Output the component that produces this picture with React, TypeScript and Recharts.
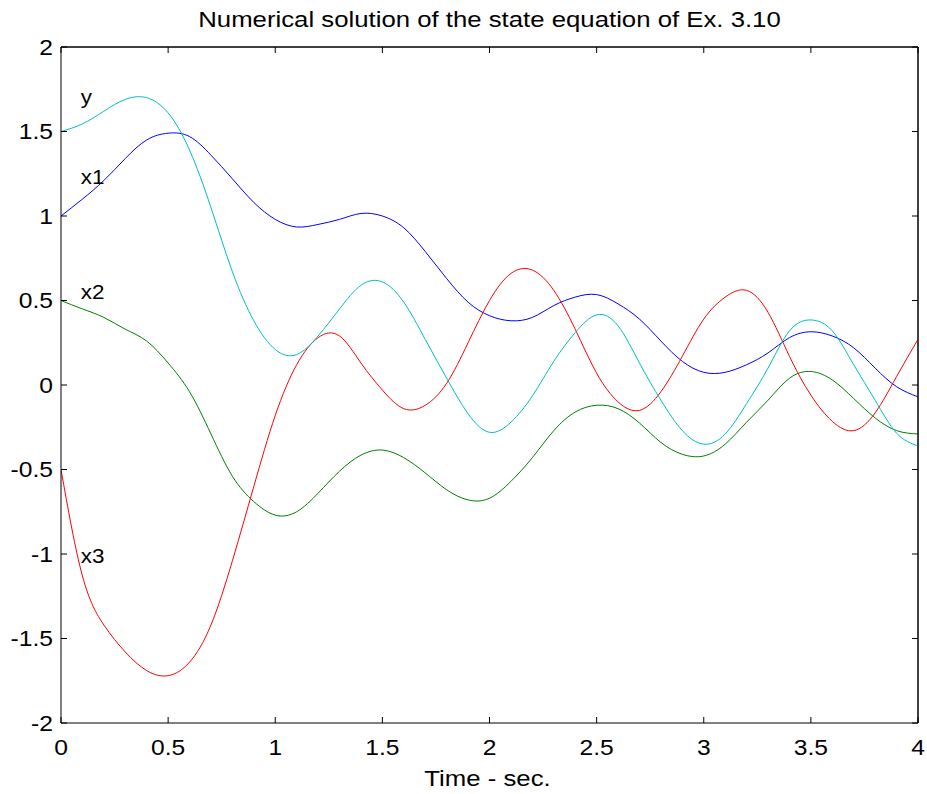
import { LineChart, Line, XAxis, YAxis, ReferenceDot, ReferenceLine } from "recharts";

const FONT = '"Liberation Sans", Arial, Helvetica, sans-serif';
const SX = 1.12; // matlab text renders a bit wide
const TICK_LEN = 6;

const TIME = [
  0, 0.1, 0.2, 0.3, 0.4, 0.5, 0.6, 0.7, 0.8, 0.9, 1.0, 1.1, 1.2, 1.3, 1.4,
  1.5, 1.6, 1.7, 1.8, 1.9, 2.0, 2.1, 2.2, 2.3, 2.4, 2.5, 2.6, 2.7, 2.8, 2.9,
  3.0, 3.1, 3.2, 3.3, 3.4, 3.5, 3.6, 3.7, 3.8, 3.9, 4.0,
];

const X1 = [
  1.0, 1.1, 1.21, 1.34, 1.45, 1.49, 1.47, 1.36, 1.22, 1.08, 0.98, 0.935, 0.95,
  0.98, 1.015, 1.0, 0.93, 0.79, 0.63, 0.49, 0.41, 0.38, 0.4, 0.47, 0.52, 0.535,
  0.48, 0.39, 0.26, 0.14, 0.075, 0.075, 0.12, 0.19, 0.28, 0.315, 0.29, 0.22,
  0.1, -0.01, -0.07,
];

const X2 = [
  0.5, 0.45, 0.4, 0.33, 0.26, 0.13, -0.04, -0.29, -0.54, -0.69, -0.77, -0.75,
  -0.64, -0.51, -0.415, -0.385, -0.43, -0.52, -0.62, -0.68, -0.67, -0.57,
  -0.43, -0.27, -0.16, -0.12, -0.14, -0.225, -0.34, -0.41, -0.42, -0.35,
  -0.22, -0.09, 0.04, 0.08, 0.03, -0.08, -0.195, -0.27, -0.29,
];

const X3 = [
  -0.5, -1.13, -1.42, -1.58, -1.69, -1.72, -1.64, -1.42, -1.04, -0.6, -0.18,
  0.12, 0.28, 0.29, 0.13, -0.03, -0.14, -0.12, 0.01, 0.25, 0.5, 0.66, 0.68,
  0.56, 0.33, 0.07, -0.1, -0.15, -0.04, 0.17, 0.39, 0.52, 0.56, 0.43, 0.17,
  -0.06, -0.215, -0.27, -0.165, 0.05, 0.27,
];

const Y_OUT = [
  1.5, 1.545, 1.62, 1.69, 1.7, 1.61, 1.39, 1.05, 0.67, 0.38, 0.21, 0.18, 0.29,
  0.45, 0.59, 0.61, 0.49, 0.27, 0.04, -0.17, -0.28, -0.22, -0.065, 0.14, 0.31,
  0.415, 0.35, 0.13, -0.09, -0.27, -0.35, -0.29, -0.11, 0.1, 0.32, 0.385,
  0.32, 0.12, -0.09, -0.285, -0.36,
];

const X_TICKS = [0, 0.5, 1, 1.5, 2, 2.5, 3, 3.5, 4];
const Y_TICKS = [-2, -1.5, -1, -0.5, 0, 0.5, 1, 1.5, 2];

// curve name tags (text start, baseline) in data units
const TAG_NAMES = ["y", "x1", "x2", "x3"];
const TAG_T = [0.092, 0.092, 0.092, 0.092];
const TAG_V = [1.66, 1.19, 0.51, -1.055];

const rows = TIME.map((t, i) => ({
  t,
  x1: X1[i],
  x2: X2[i],
  x3: X3[i],
  y: Y_OUT[i],
}));

const Y_MARGIN = 8;
const X_MARGIN = 16;

function LeftTick({ x, y, payload }: any) {
  return (
    <g>
      <line x1={x + Y_MARGIN} x2={x + Y_MARGIN + TICK_LEN} y1={y} y2={y} stroke="#000" />
      <g transform={`translate(${x},${y}) scale(${SX},1)`}>
        <text x={0} y={0} dy={7.8} textAnchor="end" fontSize={22} fontFamily={FONT} fill="#000">
          {payload.value}
        </text>
      </g>
    </g>
  );
}

function BottomTick({ x, y, payload }: any) {
  return (
    <g>
      <line x1={x} x2={x} y1={y - X_MARGIN} y2={y - X_MARGIN - TICK_LEN} stroke="#000" />
      <g transform={`translate(${x},${y}) scale(${SX},1)`}>
        <text x={0} y={0} dy={16} textAnchor="middle" fontSize={22} fontFamily={FONT} fill="#000">
          {payload.value}
        </text>
      </g>
    </g>
  );
}

function TopTick({ x, y }: any) {
  return <line x1={x} x2={x} y1={y} y2={y + TICK_LEN} stroke="#000" />;
}

function RightTick({ x, y }: any) {
  return <line x1={x} x2={x - TICK_LEN} y1={y} y2={y} stroke="#000" />;
}

function TagText(props: any) {
  const vb = props.viewBox || {};
  const cx = vb.x + (vb.width || 0) / 2;
  const cy = vb.y + (vb.height || 0) / 2;
  return (
    <g transform={`translate(${cx},${cy}) scale(${SX},1)`}>
      <text x={0} y={0} textAnchor="start" fontSize={20} fontFamily={FONT} fill="#000">
        {props.value}
      </text>
    </g>
  );
}

export default function App() {
  return (
    <div style={{ position: "absolute", left: 0, top: 0, width: 927, height: 794, background: "#fff" }}>
      <LineChart
        width={927}
        height={794}
        data={rows}
        margin={{ top: 46, right: 8, left: 0, bottom: 41 }}
      >
        <XAxis
          dataKey="t"
          type="number"
          domain={[0, 4]}
          ticks={X_TICKS}
          allowDataOverflow
          height={30}
          tickSize={0}
          tickMargin={X_MARGIN}
          tick={BottomTick}
          tickLine={false}
          axisLine={{ stroke: "#000" }}
        />
        <XAxis
          xAxisId="top"
          orientation="top"
          dataKey="t"
          type="number"
          domain={[0, 4]}
          ticks={X_TICKS}
          allowDataOverflow
          height={1}
          tickSize={0}
          tickMargin={0}
          tick={TopTick}
          tickLine={false}
          axisLine={{ stroke: "#000" }}
        />
        <YAxis
          type="number"
          domain={[-2, 2]}
          ticks={Y_TICKS}
          allowDataOverflow
          width={61}
          tickSize={0}
          tickMargin={Y_MARGIN}
          tick={LeftTick}
          tickLine={false}
          axisLine={{ stroke: "#000" }}
        />
        <YAxis
          yAxisId="right"
          orientation="right"
          type="number"
          domain={[-2, 2]}
          ticks={Y_TICKS}
          allowDataOverflow
          width={1}
          tickSize={0}
          tickMargin={0}
          tick={RightTick}
          tickLine={false}
          axisLine={{ stroke: "#000" }}
        />
        <ReferenceLine y={2} stroke="#000" ifOverflow="extendDomain" />
        <ReferenceLine x={4} stroke="#000" ifOverflow="extendDomain" />
        <Line type="natural" dataKey="x1" stroke="#0000ff" strokeWidth={1} dot={false} isAnimationActive={false} />
        <Line type="natural" dataKey="x2" stroke="#008000" strokeWidth={1} dot={false} isAnimationActive={false} />
        <Line type="natural" dataKey="x3" stroke="#ff0000" strokeWidth={1} dot={false} isAnimationActive={false} />
        <Line type="natural" dataKey="y" stroke="#00bfbf" strokeWidth={1} dot={false} isAnimationActive={false} />
        {TAG_NAMES.map((name, i) => (
          <ReferenceDot
            key={name}
            x={TAG_T[i]}
            y={TAG_V[i]}
            r={0}
            fill="none"
            stroke="none"
            label={{ value: name, content: TagText }}
          />
        ))}
      </LineChart>
      <svg
        width={927}
        height={794}
        style={{ position: "absolute", left: 0, top: 0, pointerEvents: "none" }}
      >
        <g transform={`translate(489.5,27) scale(${SX},1)`}>
          <text x={0} y={0} textAnchor="middle" fontSize={23} fontFamily={FONT} fill="#000">
            Numerical solution of the state equation of Ex. 3.10
          </text>
        </g>
        <g transform={`translate(487.5,786) scale(${SX},1)`}>
          <text x={0} y={0} textAnchor="middle" fontSize={23} fontFamily={FONT} fill="#000">
            Time - sec.
          </text>
        </g>
      </svg>
    </div>
  );
}
